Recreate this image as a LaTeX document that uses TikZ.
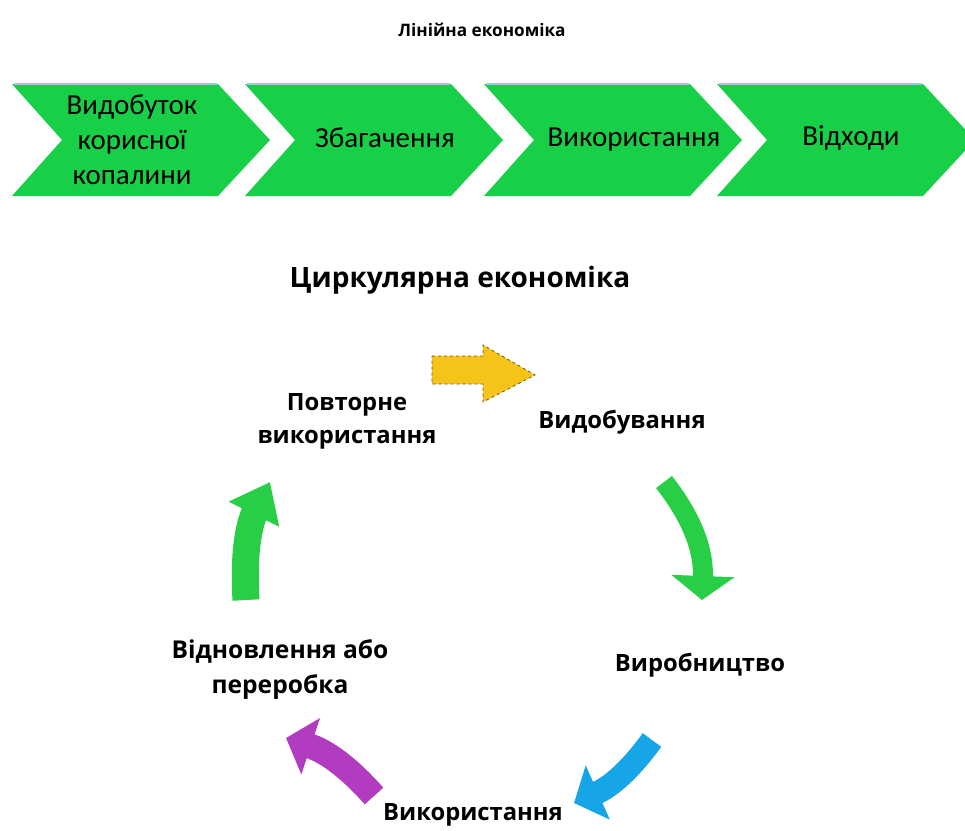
\documentclass[tikz,border=0pt]{standalone}
\usepackage{fontspec}
\setmainfont{Carlito}
\newfontfamily\headfont{Open Sans}
\usepackage{tikz}
\usetikzlibrary{positioning,arrows.meta}

\definecolor{chevgreen}{RGB}{24,208,72}
\definecolor{arrgreen}{RGB}{40,206,70}
\definecolor{arryellow}{RGB}{246,196,24}
\definecolor{arrblue}{RGB}{22,166,232}
\definecolor{arrpurple}{RGB}{178,60,192}
\definecolor{edgeblue}{RGB}{160,200,230}

\tikzset{
    chevtext/.style={font=\fontsize{29}{35}\selectfont, align=center},
    cyctext/.style={font=\headfont\bfseries\fontsize{23.8}{33}\selectfont, align=center},
    bigarrow/.style={line width=23pt, draw=#1, -{Triangle[width=58pt,length=26pt]}}
}

\begin{document}
\begin{tikzpicture}[x=1pt,y=-1pt]
    \useasboundingbox (0,0) rectangle (965,830);
    % Linear economy title
    \node[font=\headfont\bfseries\fontsize{17.2}{20}\selectfont] (lintitle) at (482,30) {Лінійна економіка};
    % Chevrons
    \foreach \x in {12,245,484,717} {
        \fill[chevgreen] (\x,84) -- ++(206,0) -- ++(52,56) -- ++(-52,56) -- ++(-206,0) -- ++(50,-56) -- cycle;
        \draw[edgeblue,line width=1.5pt] (\x+2,84) -- ++(203,0);
    }
    \node[chevtext] (c1) at (132,140) {Видобуток\\корисної\\копалини};
    \node[chevtext] (c2) at (385,138) {Збагачення};
    \node[chevtext] (c3) at (634,140) {Використання};
    \node[chevtext] (c4) at (851,138) {Відходи};
    % Circular economy title
    \node[font=\headfont\bfseries\fontsize{28}{32}\selectfont] (cirtitle) at (460,280) {Циркулярна економіка};
    % Cycle stages
    \node[cyctext] (reuse) at (347,421) {Повторне\\використання};
    \node[cyctext] (extract) at (622,422) {Видобування};
    \node[cyctext] (produce) at (700,665) {Виробництво};
    \node[cyctext] (use) at (473,815) {Використання};
    \node[cyctext, font=\headfont\bfseries\fontsize{24.6}{35}\selectfont] (recover) at (280,669) {Відновлення або\\переробка};
    % Arrow ends
    \coordinate (a1) at (432,370);
    \coordinate (b1) at (535,375);
    \coordinate (a2) at (664,482);
    \coordinate (b2) at (702,600);
    \coordinate (a3) at (652,740);
    \coordinate (b3) at (574,803);
    \coordinate (a4) at (374,796);
    \coordinate (b4) at (286,738);
    \coordinate (a5) at (246,600);
    \coordinate (b5) at (270,482);
    % Cycle arrows
    \filldraw[fill=arryellow, draw=black!55!arryellow, dashed, line width=0.8pt]
        (a1) ++(0,-14) -- ++(51,0) -- ++(0,-11) -- (b1) -- ++(-52,27) -- ++(0,-18) -- ++(-51,0) -- cycle;
    \draw[bigarrow=arrgreen, line width=20pt, -{Triangle[width=62pt,length=24pt]}] (a2) to[bend left=20] (b2);
    \draw[bigarrow=arrblue] (a3) to[bend left=15] (b3);
    \draw[bigarrow=arrpurple, line width=25pt] (a4) to[bend right=15] (b4);
    \draw[line width=27pt, arrgreen, -{Triangle[width=54pt,length=36pt]}] (a5) to[bend left=15] (b5);
\end{tikzpicture}
\end{document}
